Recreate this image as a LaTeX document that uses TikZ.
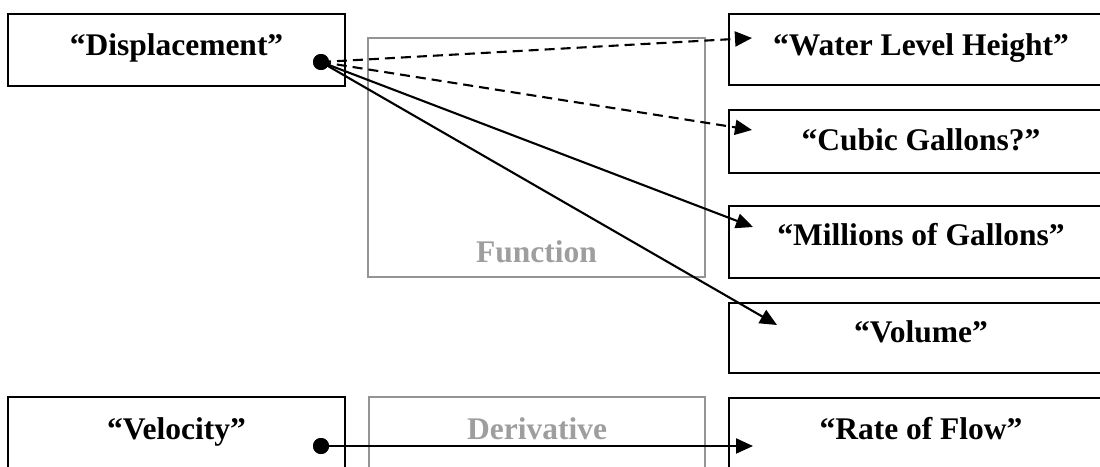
\documentclass[tikz,border=0pt]{standalone}
\usepackage{fontspec}
\setmainfont{Liberation Serif}
\usetikzlibrary{arrows.meta}
\definecolor{boxgray}{gray}{0.58}
\definecolor{txtgray}{gray}{0.62}
\tikzset{
  blackbox/.style={draw=black, line width=2.8pt, rectangle, inner sep=0pt},
  graybox/.style={draw=boxgray, line width=2.2pt, rectangle, inner sep=0pt},
  lbl/.style={anchor=base, inner sep=0pt, font=\fontsize{31.5}{36}\selectfont\bfseries},
  glbl/.style={lbl, text=txtgray},
  dot/.style={circle, fill=black, inner sep=0pt, minimum size=16pt},
  conn/.style={line width=2.1pt, -{Triangle[length=17pt,width=15pt]}},
  dconn/.style={conn, dash pattern=on 10pt off 6pt},
}
\begin{document}
\begin{tikzpicture}[x=1pt,y=-1pt]
\useasboundingbox (0,0) rectangle (1100,466);
\clip (0,0) rectangle (1100,466);
% gray boxes
\node[graybox, minimum width=337pt, minimum height=239pt] (fun) at (536.5,157.5) {};
\node[glbl] (funl) at (536.5,262) {Function};
\node[graybox, minimum width=336pt, minimum height=84pt] (der) at (537,439) {};
\node[glbl] (derl) at (537,439) {Derivative};
% left boxes
\node[blackbox, minimum width=337pt, minimum height=72pt] (disp) at (176.5,50) {};
\node[lbl] (displ) at (176.5,55) {“Displacement”};
\node[blackbox, minimum width=337pt, minimum height=84pt] (vel) at (176.5,439) {};
\node[lbl] (vell) at (176.5,439) {“Velocity”};
% right boxes
\node[blackbox, minimum width=384pt, minimum height=71pt] (wat) at (921,49.5) {};
\node[lbl] (watl) at (921,55) {“Water Level Height”};
\node[blackbox, minimum width=384pt, minimum height=63pt] (cub) at (921,141.5) {};
\node[lbl] (cubl) at (921,150) {“Cubic Gallons?”};
\node[blackbox, minimum width=384pt, minimum height=72pt] (mil) at (921,242) {};
\node[lbl] (mill) at (921,245) {“Millions of Gallons”};
\node[blackbox, minimum width=384pt, minimum height=70pt] (vol) at (921,338) {};
\node[lbl] (voll) at (921,342) {“Volume”};
\node[blackbox, minimum width=384pt, minimum height=84pt] (rate) at (921,440) {};
\node[lbl] (ratel) at (921,439) {“Rate of Flow”};
% arrow tip points
\coordinate (tw) at (752,38);
\coordinate (tc) at (752,130);
\coordinate (tm) at (753,227);
\coordinate (tv) at (777,325);
\coordinate (tr) at (753,446);
% connectors
\node[dot] (d1) at (321,62) {};
\node[dot] (d2) at (321,446) {};
\draw[dconn] (d1.center) -- (tw);
\draw[dconn] (d1.center) -- (tc);
\draw[conn] (d1.center) -- (tm);
\draw[conn] (d1.center) -- (tv);
\draw[conn] (d2.center) -- (tr);
\node[dot] at (d1) {};
\node[dot] at (d2) {};
\end{tikzpicture}
\end{document}
